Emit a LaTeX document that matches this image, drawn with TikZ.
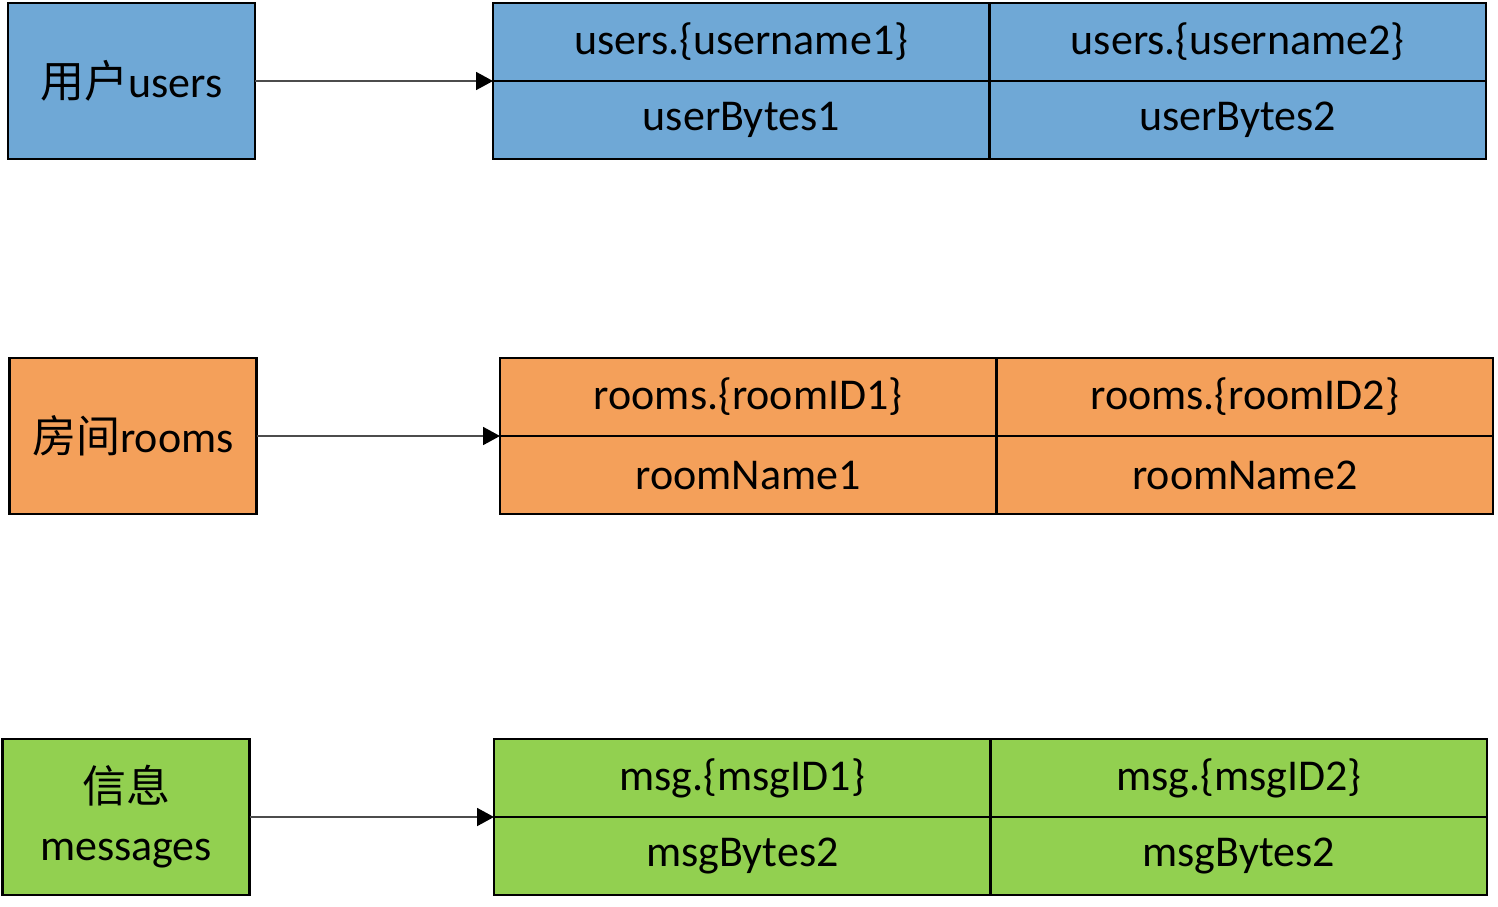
\documentclass[tikz,border=0pt]{standalone}
\usepackage{fontspec}
\setmainfont{Carlito}
\newfontfamily\cjk{Noto Sans CJK SC}
\usetikzlibrary{arrows.meta}
\definecolor{cblue}{RGB}{111,168,214}
\definecolor{corange}{RGB}{244,160,90}
\definecolor{cgreen}{RGB}{146,208,80}
\tikzset{
  box/.style={draw=black, line width=2.6pt, inner sep=0pt, outer sep=0pt,
    minimum width=247pt, minimum height=156pt, align=center,
    font=\fontsize{44}{58}\selectfont},
  cell/.style={draw=black, line width=2.6pt, inner sep=0pt, outer sep=0pt,
    minimum width=496.5pt, minimum height=78pt,
    font=\fontsize{44}{48}\selectfont},
  arr/.style={draw=black!70, line width=1.8pt, -{Triangle[length=17pt,width=18pt,color=black]}}
}
\begin{document}
\begin{tikzpicture}[x=1pt,y=-1pt]
\useasboundingbox (0,0) rectangle (1498,906);
% row 1
\node[box, fill=cblue] (ub) at (131.5,81) {{\cjk 用户}users};
\node[cell, fill=cblue] (u11) at (741.25,42) {users.\{username1\}};
\node[cell, fill=cblue] (u12) at (1237.75,42) {users.\{username2\}};
\node[cell, fill=cblue] (u21) at (741.25,120) {userBytes1};
\node[cell, fill=cblue] (u22) at (1237.75,120) {userBytes2};
\draw[arr] (ub.east) -- (u11.south west);
% row 2
\node[box, fill=corange] (rb) at (133,436) {{\cjk 房间}rooms};
\node[cell, fill=corange] (r11) at (748.25,397) {rooms.\{roomID1\}};
\node[cell, fill=corange] (r12) at (1244.75,397) {rooms.\{roomID2\}};
\node[cell, fill=corange] (r21) at (748.25,475) {roomName1};
\node[cell, fill=corange] (r22) at (1244.75,475) {roomName2};
\draw[arr] (rb.east) -- (r11.south west);
% row 3
\node[box, fill=cgreen] (mb) at (126,817) {{\cjk 信息}\\messages};
\node[cell, fill=cgreen] (m11) at (742.25,778) {msg.\{msgID1\}};
\node[cell, fill=cgreen] (m12) at (1238.75,778) {msg.\{msgID2\}};
\node[cell, fill=cgreen] (m21) at (742.25,856) {msgBytes2};
\node[cell, fill=cgreen] (m22) at (1238.75,856) {msgBytes2};
\draw[arr] (mb.east) -- (m11.south west);
\end{tikzpicture}
\end{document}
